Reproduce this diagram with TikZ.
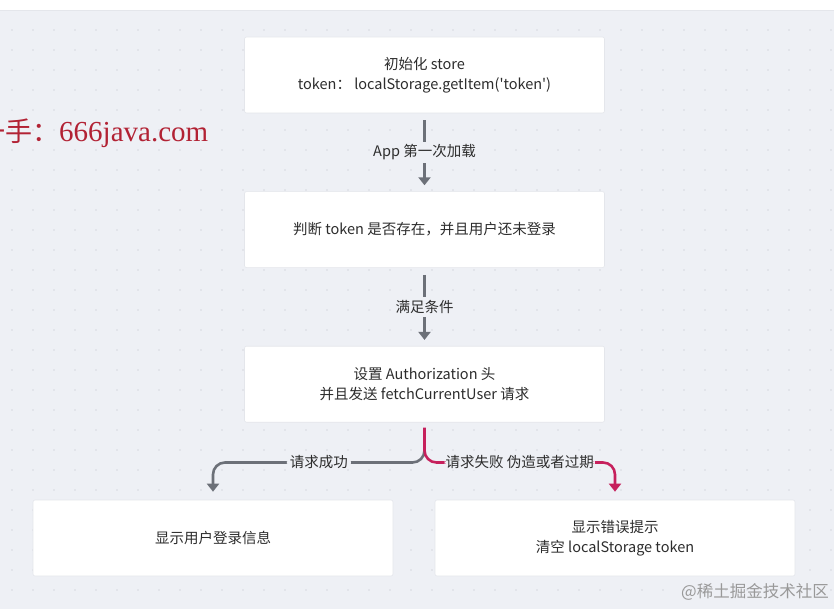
\documentclass[tikz,border=0pt]{standalone}
\usepackage{fontspec}
\newfontfamily\cjk{Noto Sans CJK SC}
\newfontfamily\wmserif{Liberation Serif}
\usepackage{xcolor}
\usetikzlibrary{positioning, arrows.meta}
\definecolor{canvas}{RGB}{238,240,245}
\definecolor{griddot}{RGB}{214,217,224}
\definecolor{boxedge}{RGB}{228,230,235}
\definecolor{ink}{RGB}{45,45,45}
\definecolor{okgray}{RGB}{108,112,120}
\definecolor{failred}{RGB}{198,32,92}
\definecolor{wmred}{RGB}{178,34,52}
\tikzset{
  stepbox/.style={draw=boxedge, line width=0.6pt, fill=white, rounded corners=2pt,
                  minimum width=360pt, minimum height=76pt,
                  align=center, text=ink, inner sep=2pt,
                  font=\cjk\fontsize{14.5}{20}\selectfont},
  lbl/.style={fill=canvas, text=ink, inner sep=3pt,
              font=\cjk\fontsize{14.5}{20}\selectfont},
  flow/.style={-{Triangle[width=12pt, length=8pt]}, line width=2.6pt, draw=okgray,
               shorten <=7pt, shorten >=6pt},
  okflow/.style={flow, rounded corners=12pt, shorten >=8pt},
  failflow/.style={okflow, draw=failred, shorten <=5pt}
}
\begin{document}
\begin{tikzpicture}[x=1pt, y=1pt]
\useasboundingbox (0,0) rectangle (834,-609);
\fill[canvas] (0,0) rectangle (834,-609);
\fill[white] (0,0) rectangle (834,-11);
\draw[boxedge, line width=1pt] (0,-11) -- (834,-11);
\foreach \x in {12,33,...,834}
  \foreach \y in {-30,-50,...,-609}
    \fill[griddot] (\x,\y) circle (0.8);

\node[stepbox] (init) at (424.5,-75) {初始化 store\\token： localStorage.getItem('token')};
\node[stepbox, below=78pt of init] (check) {判断 token 是否存在，并且用户还未登录};
\node[stepbox, below=78pt of check] (req) {设置 Authorization 头\\并且发送 fetchCurrentUser 请求};
\node[stepbox] (ok) at (213,-538) {显示用户登录信息};
\node[stepbox] (fail) at (615,-538) {显示错误提示\\清空 localStorage token};
\coordinate[below=40pt of req] (lane);

\draw[flow] (init) -- node[lbl] {App 第一次加载} (check);
\draw[flow] (check) -- node[lbl] {满足条件} (req);
\draw[okflow] (req.south) -- (lane) -| node[pos=0.25, lbl] {请求成功} (ok.north);
\draw[failflow] (req.south) -- (lane) -| node[pos=0.25, lbl, inner sep=1pt] {请求失败 伪造或者过期} (fail.north);

\node[anchor=base west, inner sep=0pt, text=wmred, font=\cjk\fontsize{27}{30}\selectfont]
  (site) at (-22,-142) {一手：{\wmserif\fontsize{29}{30}\selectfont 666java.com}};
\node[anchor=east, inner sep=0pt, text=black!40, font=\cjk\fontsize{16.5}{20}\selectfont]
  (juejin) at (829,-592) {@稀土掘金技术社区};
\end{tikzpicture}
\end{document}
